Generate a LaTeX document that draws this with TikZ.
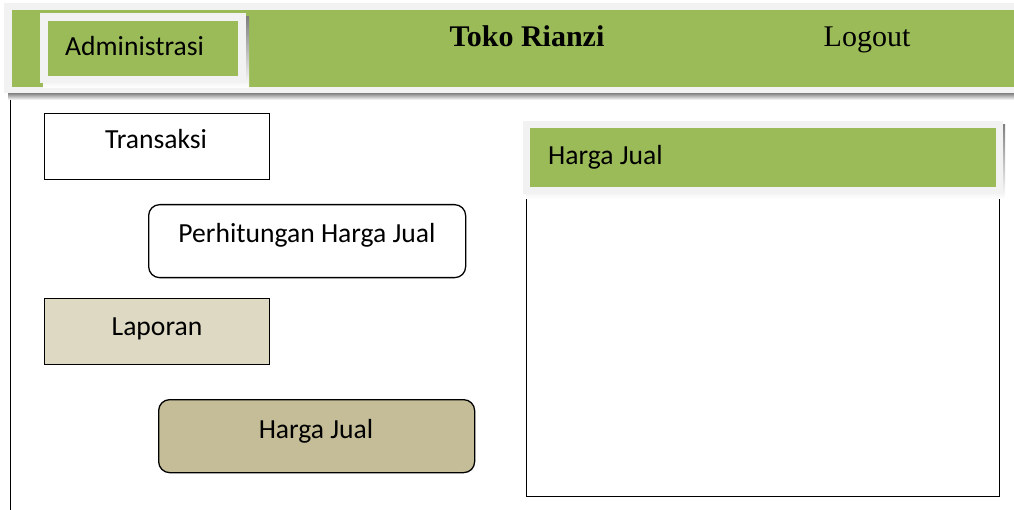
\documentclass[tikz,border=0pt]{standalone}
\usepackage{fontspec}
\setmainfont{Carlito}
\newfontfamily\serifrm{Liberation Serif}
\definecolor{hgreen}{HTML}{9BBB59}
\definecolor{lgray}{HTML}{F2F2F2}
\definecolor{shade}{HTML}{A6AD8F}
\definecolor{lapfill}{HTML}{DDD9C3}
\definecolor{hjfill}{HTML}{C4BD97}
\tikzset{
  menubox/.style={draw=black, line width=1.3pt, anchor=north west, inner sep=0pt},
  lbl/.style={anchor=base, inner sep=0pt, font=\fontsize{27.6}{32}\selectfont},
}
\begin{document}
\begin{tikzpicture}[x=1pt,y=-1pt]
\useasboundingbox (0,0) rectangle (1014,510);
% top header bar
\fill[shade] (8,93) rectangle (1014,100);
\fill[lgray] (4,3) rectangle (1014,93);
\fill[hgreen] (12,10) rectangle (1014,87);
% Administrasi button
\fill[shade] (43,17) rectangle (249,88);
\fill[lgray] (40,13) rectangle (246,83);
\fill[hgreen] (48,21) rectangle (238,76);
\node[lbl, anchor=base west] (admin) at (65,56) {Administrasi};
\node[anchor=base, inner sep=0pt, font=\serifrm\bfseries\fontsize{30}{34}\selectfont] (toko) at (527,47) {Toko Rianzi};
\node[anchor=base, inner sep=0pt, font=\serifrm\fontsize{30}{34}\selectfont] (logout) at (867,47) {Logout};
% left vertical line
\draw[line width=1pt] (10,100) -- (10,510);
% left menu boxes
\node[menubox, fill=white, minimum width=225pt, minimum height=66pt] (trbox) at (44,113) {};
\node[lbl] (tr) at (156,149) {Transaksi};
\node[menubox, fill=white, rounded corners=11pt, minimum width=317pt, minimum height=73pt] (phbox) at (148,204) {};
\node[lbl] (ph) at (307,243) {Perhitungan Harga Jual};
\node[menubox, fill=lapfill, minimum width=225pt, minimum height=66pt] (lpbox) at (44,298) {};
\node[lbl] (lp) at (157,335) {Laporan};
\node[menubox, fill=hjfill, rounded corners=11pt, minimum width=316pt, minimum height=73pt] (hjbox) at (158,399) {};
\node[lbl] (hj) at (316,438) {Harga Jual};
% right panel
\node[menubox, fill=white, minimum width=473pt, minimum height=300pt] (panel) at (526,196) {};
\fill[shade] (526,125) rectangle (1005,199);
\fill[lgray] (523,121) rectangle (1003,194);
\fill[hgreen] (530,128) rectangle (996,187);
\node[lbl, anchor=base west] (phead) at (548,165) {Harga Jual};
\end{tikzpicture}
\end{document}
